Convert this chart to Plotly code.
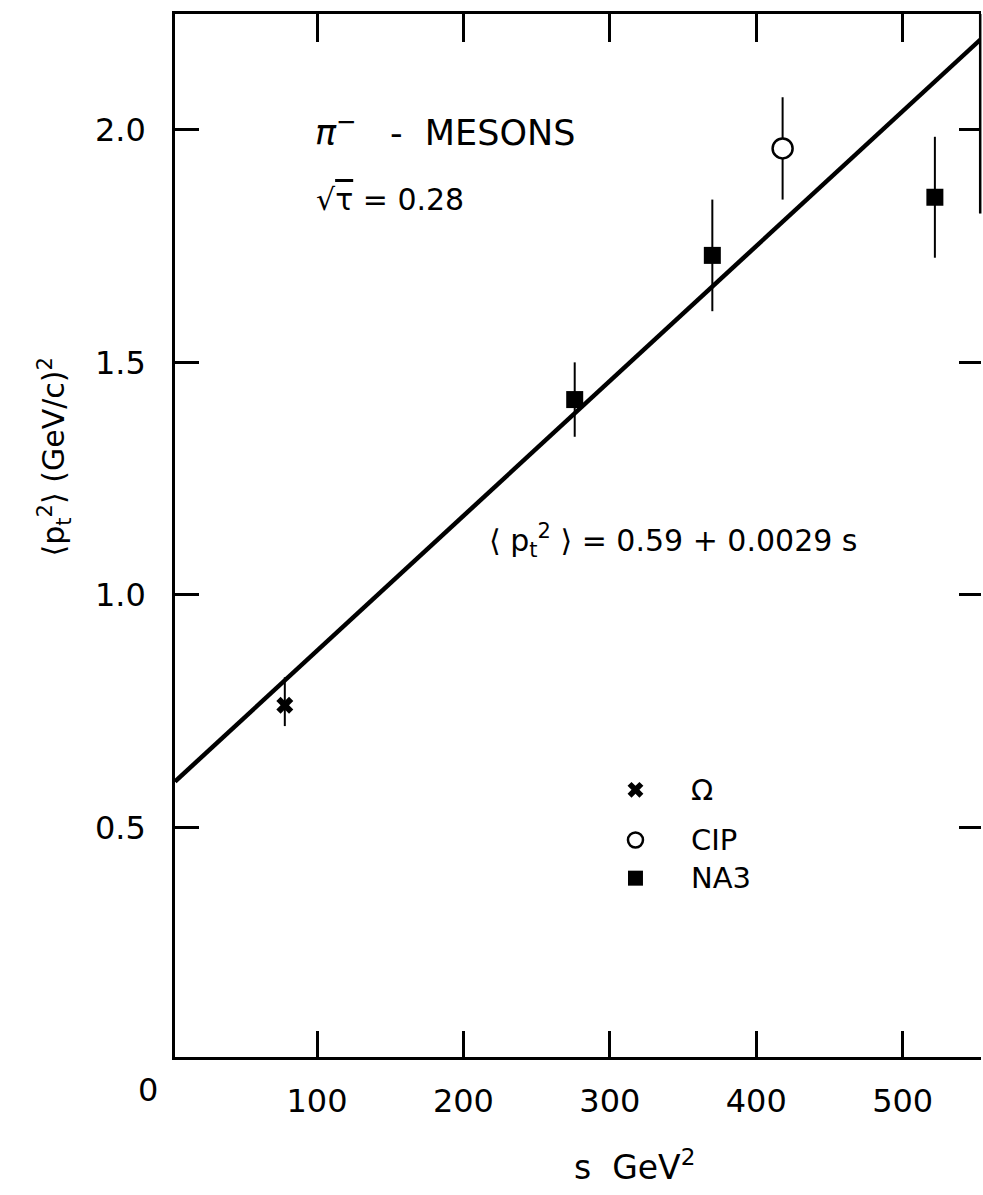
import numpy as np
import plotly.graph_objects as go

# Mean transverse momentum squared of pi- mesons vs s
omega_s = [78]
omega_pt2 = [0.763]
omega_err_plus = [0.06]
omega_err_minus = [0.045]

cip_s = [418]
cip_pt2 = [1.96]
cip_err = [0.11]

na3_s = [276, 370, 522]
na3_pt2 = [1.42, 1.73, 1.855]
na3_err = [0.08, 0.12, 0.13]

# Linear fit <pt^2> = a + b*s
fit_a = 0.59
fit_b = 0.0029

x_ticks = [100, 200, 300, 400, 500]
x_ticktext = ["100", "200", "300", "400", "500"]
y_ticks = [0.5, 1.0, 1.5, 2.0]
y_ticktext = ["0.5", "1.0", "1.5", "2.0"]

x_range = [3, 553.5]
y_range = [0.0065, 2.249]

# legend key positions (data coordinates)
legend_s = [317.5]
legend_y = [0.581, 0.473, 0.391]
legend_text_s = 354
legend_labels = ["Ω", "CIP", "NA3"]

FONT = "DejaVu Sans"
BLACK = "#000000"

fig = go.Figure()

s_line = np.linspace(x_range[0], x_range[1], 50)
fig.add_trace(go.Scatter(x=s_line, y=fit_a + fit_b * s_line, mode="lines",
                         line=dict(color=BLACK, width=4.5), hoverinfo="skip"))

fig.add_trace(go.Scatter(
    x=omega_s, y=omega_pt2, mode="markers",
    marker=dict(symbol="x", size=15, color=BLACK, line=dict(width=0)),
    error_y=dict(type="data", symmetric=False, array=omega_err_plus,
                 arrayminus=omega_err_minus, width=0, thickness=2, color=BLACK)))

fig.add_trace(go.Scatter(
    x=na3_s, y=na3_pt2, mode="markers",
    marker=dict(symbol="square", size=17, color=BLACK),
    error_y=dict(type="data", array=na3_err, width=0, thickness=2, color=BLACK)))

fig.add_trace(go.Scatter(
    x=cip_s, y=cip_pt2, mode="markers",
    marker=dict(symbol="circle", size=20, color="white", line=dict(color=BLACK, width=2.5)),
    error_y=dict(type="data", array=cip_err, width=0, thickness=2, color=BLACK)))

# legend keys
fig.add_trace(go.Scatter(x=legend_s, y=[legend_y[0]], mode="markers",
                         marker=dict(symbol="x", size=14, color=BLACK)))
fig.add_trace(go.Scatter(x=legend_s, y=[legend_y[1]], mode="markers",
                         marker=dict(symbol="circle", size=15, color="white",
                                     line=dict(color=BLACK, width=2.5))))
fig.add_trace(go.Scatter(x=legend_s, y=[legend_y[2]], mode="markers",
                         marker=dict(symbol="square", size=15, color=BLACK)))

# invisible trace for the mirrored top/right tick axes
fig.add_trace(go.Scatter(x=[None], y=[None], xaxis="x2", yaxis="y2", mode="markers",
                         showlegend=False))

for lbl, yv in zip(legend_labels, legend_y):
    fig.add_annotation(x=legend_text_s, y=yv, text=lbl, showarrow=False,
                       xanchor="left", yanchor="middle",
                       font=dict(family=FONT, size=29, color=BLACK))

fig.add_annotation(x=97, y=2.0, xanchor="left", yanchor="middle", showarrow=False,
                   text="<i>π</i><sup>−</sup>   -  MESONS",
                   font=dict(family=FONT, size=35, color=BLACK))
fig.add_annotation(x=98, y=1.85, xanchor="left", yanchor="middle", showarrow=False,
                   text="√<span style='text-decoration:overline'>τ</span> = 0.28",
                   font=dict(family=FONT, size=30, color=BLACK))
fig.add_annotation(x=216, y=1.118, xanchor="left", yanchor="middle", showarrow=False,
                   text="⟨ p<sub>t</sub><sup>2</sup> ⟩ = 0.59 + 0.0029 s",
                   font=dict(family=FONT, size=30, color=BLACK))

# axis titles and origin label
fig.add_annotation(xref="paper", yref="paper", x=-0.0335, y=-0.0316, text="0",
                   showarrow=False, xanchor="center", yanchor="middle",
                   font=dict(family=FONT, size=32, color=BLACK))
fig.add_annotation(xref="paper", yref="paper", x=0.57, y=-0.104, text="s  GeV<sup>2</sup>",
                   showarrow=False, xanchor="center", yanchor="middle",
                   font=dict(family=FONT, size=33, color=BLACK))
fig.add_annotation(xref="paper", yref="paper", x=-0.15, y=0.575,
                   text="⟨p<sub>t</sub><sup>2</sup>⟩ (GeV/c)<sup>2</sup>",
                   showarrow=False, textangle=-90, xanchor="center", yanchor="middle",
                   font=dict(family=FONT, size=30, color=BLACK))

# partial right frame line
fig.add_shape(type="line", xref="paper", yref="y", x0=0.999, x1=0.999, y0=1.82,
              y1=y_range[1], line=dict(color=BLACK, width=2.5), layer="above")

axis_font = dict(family=FONT, size=32, color=BLACK)
fig.update_layout(
    width=983, height=1195,
    margin=dict(l=175, r=2, t=14, b=138),
    paper_bgcolor="white", plot_bgcolor="white",
    showlegend=False,
    xaxis=dict(range=x_range, tickvals=x_ticks, ticktext=x_ticktext, ticks="inside",
               ticklen=26, tickwidth=2.5, tickcolor=BLACK, showline=True, linecolor=BLACK,
               linewidth=2.5, showgrid=False, zeroline=False, tickfont=axis_font,
               ticklabelstandoff=14),
    yaxis=dict(range=y_range, tickvals=y_ticks, ticktext=y_ticktext, ticks="inside",
               ticklen=24, tickwidth=2.5, tickcolor=BLACK, showline=True, linecolor=BLACK,
               linewidth=2.5, showgrid=False, zeroline=False, tickfont=axis_font,
               ticklabelstandoff=20),
    xaxis2=dict(range=x_range, overlaying="x", side="top", tickvals=x_ticks,
                showticklabels=False, ticks="inside", ticklen=28, tickwidth=2.5,
                tickcolor=BLACK, showline=True, linecolor=BLACK, linewidth=2.5,
                showgrid=False, zeroline=False),
    yaxis2=dict(range=y_range, overlaying="y", side="right", tickvals=y_ticks,
                showticklabels=False, ticks="inside", ticklen=22, tickwidth=2.5,
                tickcolor=BLACK, showline=False, showgrid=False, zeroline=False),
)

fig.write_html("out.html")
